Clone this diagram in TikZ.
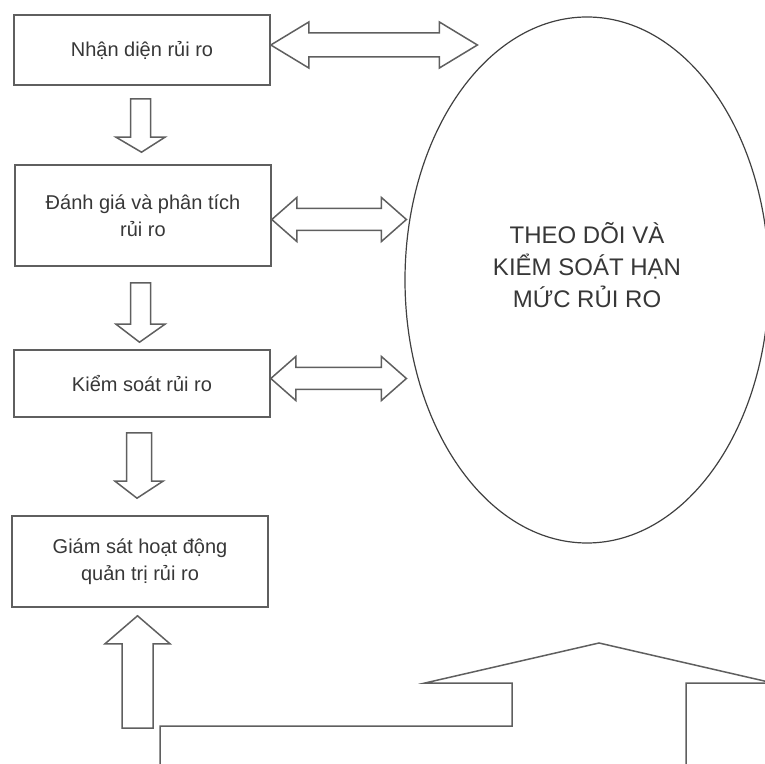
\documentclass[tikz,border=0pt]{standalone}
\usepackage{fontspec}
\setmainfont{Liberation Sans}
\usetikzlibrary{shapes.geometric,calc}
\definecolor{linegray}{RGB}{95,95,95}
\definecolor{textgray}{RGB}{55,55,55}

\begin{document}
\begin{tikzpicture}[x=1pt, y=1pt, every node/.style={font=\fontsize{20}{27}\selectfont, text=textgray},
    riskbox/.style={rectangle, draw=linegray, line width=1.6pt, minimum width=256pt, align=center, inner sep=0pt},
    monitor/.style={ellipse, draw=black!75, line width=1.2pt, minimum width=364pt, minimum height=526pt, inner sep=0pt},
    fatarrow/.style={draw=linegray, line width=1.5pt, line join=miter}]
    \useasboundingbox (0,0) rectangle (765,763);
    \node[riskbox, minimum height=70pt] (nhandien) at (142,713) {Nhận diện rủi ro};
    \node[riskbox, minimum height=101pt] (danhgia) at (143,547.5) {Đánh giá và phân tích\\rủi ro};
    \node[riskbox, minimum height=67pt] (kiemsoat) at (142,379.5) {Kiểm soát rủi ro};
    \node[riskbox, minimum height=91pt] (giamsat) at (140,201.5) {Giám sát hoạt động\\quản trị rủi ro};
    \node[monitor] (theodoi) at (587,483) {};
    \node[font=\fontsize{24}{32}\selectfont, align=center] (theodoitext) at ([yshift=15pt]theodoi.center) {THEO DÕI VÀ\\KIỂM SOÁT HẠN\\MỨC RỦI RO};
    \coordinate (upfoot) at (137.5,35);
    % down arrows between the steps
    \draw[fatarrow] let \p1=([xshift=-1.5pt,yshift=-13pt]nhandien.south), \p2=([xshift=-1.5pt,yshift=12pt]danhgia.north) in
        (\x1-10pt,\y1) -- (\x1-10pt,\y2+15pt) -- (\x1-24.5pt,\y2+15pt) -- (\x2,\y2) -- (\x1+24.5pt,\y2+15pt) -- (\x1+10pt,\y2+15pt) -- (\x1+10pt,\y1) -- cycle;
    \draw[fatarrow] let \p1=([xshift=-2.5pt,yshift=-16pt]danhgia.south), \p2=([xshift=-2.5pt,yshift=7pt]kiemsoat.north) in
        (\x1-10pt,\y1) -- (\x1-10pt,\y2+18pt) -- (\x1-24.5pt,\y2+18pt) -- (\x2,\y2) -- (\x1+24.5pt,\y2+18pt) -- (\x1+10pt,\y2+18pt) -- (\x1+10pt,\y1) -- cycle;
    \draw[fatarrow] let \p1=([xshift=-3pt,yshift=-15pt]kiemsoat.south), \p2=([xshift=-3pt,yshift=17pt]giamsat.north) in
        (\x1-12.5pt,\y1) -- (\x1-12.5pt,\y2+17pt) -- (\x1-24pt,\y2+17pt) -- (\x2,\y2) -- (\x1+24pt,\y2+17pt) -- (\x1+12.5pt,\y2+17pt) -- (\x1+12.5pt,\y1) -- cycle;
    % up arrow into the last step
    \draw[fatarrow] let \p1=(upfoot), \p2=([xshift=-2.5pt,yshift=-8pt]giamsat.south) in
        (\x1-15.5pt,\y1) -- (\x1-15.5pt,\y2-28pt) -- (\x1-32.5pt,\y2-28pt) -- (\x1,\y2) -- (\x1+32.5pt,\y2-28pt) -- (\x1+15.5pt,\y2-28pt) -- (\x1+15.5pt,\y1) -- cycle;
    % double arrows to the ellipse
    \draw[fatarrow] let \p1=([yshift=5pt]nhandien.east), \p2=([xshift=73pt]theodoi.west) in
        (\x1,\y1) -- (\x1+38pt,\y1+23pt) -- (\x1+38pt,\y1+12pt) -- (\x2-38pt,\y1+12pt) -- (\x2-38pt,\y1+23pt) -- (\x2,\y1)
        -- (\x2-38pt,\y1-23pt) -- (\x2-38pt,\y1-12pt) -- (\x1+38pt,\y1-12pt) -- (\x1+38pt,\y1-23pt) -- cycle;
    \draw[fatarrow] let \p1=([yshift=-4pt]danhgia.east), \p2=([xshift=2pt]theodoi.west) in
        (\x1,\y1) -- (\x1+25pt,\y1+22pt) -- (\x1+25pt,\y1+11pt) -- (\x2-25pt,\y1+11pt) -- (\x2-25pt,\y1+22pt) -- (\x2,\y1)
        -- (\x2-25pt,\y1-22pt) -- (\x2-25pt,\y1-11pt) -- (\x1+25pt,\y1-11pt) -- (\x1+25pt,\y1-22pt) -- cycle;
    \draw[fatarrow] let \p1=([yshift=5pt]kiemsoat.east), \p2=([xshift=2pt]theodoi.west) in
        (\x1,\y1) -- (\x1+25pt,\y1+22pt) -- (\x1+25pt,\y1+11pt) -- (\x2-25pt,\y1+11pt) -- (\x2-25pt,\y1+22pt) -- (\x2,\y1)
        -- (\x2-25pt,\y1-22pt) -- (\x2-25pt,\y1-11pt) -- (\x1+25pt,\y1-11pt) -- (\x1+25pt,\y1-22pt) -- cycle;
    % big bent arrow at the bottom
    \begin{scope}
        \clip (0,0) rectangle (765,763);
        \draw[fatarrow] (160,-5) -- (160,37) -- (512,37) -- (512,80) -- (425,80) -- (599,120) -- (773,80) -- (686,80) -- (686,-5);
    \end{scope}
\end{tikzpicture}
\end{document}
